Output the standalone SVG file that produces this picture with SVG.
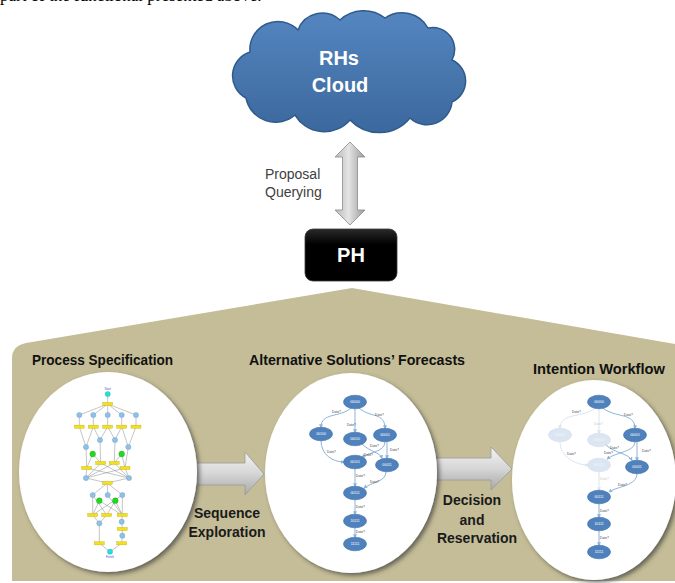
<svg xmlns="http://www.w3.org/2000/svg" width="675" height="583" viewBox="0 0 675 583">
<defs>
<linearGradient id="cloudG" x1="0" y1="0" x2="0" y2="1">
<stop offset="0" stop-color="#5586c0"/><stop offset="1" stop-color="#3b689d"/>
</linearGradient>
<linearGradient id="vArrow" x1="0" y1="0" x2="1" y2="0">
<stop offset="0" stop-color="#b8b8b8"/><stop offset="0.45" stop-color="#e4e4e4"/><stop offset="1" stop-color="#9a9a9a"/>
</linearGradient>
<linearGradient id="hArrow" x1="0" y1="0" x2="0" y2="1">
<stop offset="0" stop-color="#f4f4f4"/><stop offset="0.5" stop-color="#d6d6d6"/><stop offset="1" stop-color="#a8a8a8"/>
</linearGradient>
<linearGradient id="phG" x1="0" y1="0" x2="0" y2="1">
<stop offset="0" stop-color="#2a2a2a"/><stop offset="0.3" stop-color="#000"/><stop offset="1" stop-color="#000"/>
</linearGradient>
<filter id="sh" x="-20%" y="-20%" width="140%" height="140%">
<feDropShadow dx="2.5" dy="2.5" stdDeviation="2" flood-color="#3a3a3a" flood-opacity="0.7"/>
</filter>
<marker id="ah" viewBox="0 0 6 6" refX="5" refY="3" markerWidth="4" markerHeight="4" orient="auto">
<path d="M0,0 L6,3 L0,6 z" fill="#8db3dc"/>
</marker>
<marker id="ahp" viewBox="0 0 6 6" refX="5" refY="3" markerWidth="4" markerHeight="4" orient="auto">
<path d="M0,0 L6,3 L0,6 z" fill="#dbe5f1"/>
</marker>
<style>
.title{font-family:"Liberation Sans",Arial,sans-serif;font-weight:bold;font-size:14px;fill:#111}
.lbl{font-family:"Liberation Sans",Arial,sans-serif;font-weight:bold;font-size:14px;fill:#1a1a1a;text-anchor:middle}
.big{font-family:"Liberation Sans",Arial,sans-serif;font-weight:bold;font-size:20px;fill:#fff;text-anchor:middle}
.pq{font-family:"Liberation Sans",Arial,sans-serif;font-size:14px;fill:#404040}
.bub{fill:#fff;filter:url(#sh)}
.nd{fill:#4f81bd;stroke:#3d6ea6;stroke-width:0.6}
.ndp{fill:#dce6f2;stroke:#d3deeb;stroke-width:0.6}
.nt{font-family:"Liberation Sans",Arial,sans-serif;font-size:3.5px;fill:#fff;text-anchor:middle}
.ntp{font-family:"Liberation Sans",Arial,sans-serif;font-size:3.5px;fill:#f4f7fb;text-anchor:middle}
.ed{fill:none;stroke:#8db3dc;stroke-width:1;marker-end:url(#ah)}
.edp{fill:none;stroke:#dbe5f1;stroke-width:1;marker-end:url(#ahp)}
.dl{font-family:"Liberation Sans",Arial,sans-serif;font-size:3.3px;fill:#444}
.dlp{font-family:"Liberation Sans",Arial,sans-serif;font-size:3.3px;fill:#c8c8c8}
.pl{stroke:#7d7d7d;stroke-width:0.45;fill:none}
.pp{fill:#8fc0e6;stroke:#6a9cc8;stroke-width:0.4}
.pt{fill:#f0e020;stroke:#b8a000;stroke-width:0.3}
.pg{fill:#22d822;stroke:#119911;stroke-width:0.3}
.pc{fill:#22e0e0;stroke:#119999;stroke-width:0.3}
.ptx{font-family:"Liberation Sans",Arial,sans-serif;font-size:3px;fill:#4a4ad0;text-anchor:middle}
</style>
</defs>

<rect width="675" height="583" fill="#fff"/>
<text x="0" y="1" font-family="Liberation Serif,Times New Roman,serif" font-size="17" fill="#000">part of the functional presented above.</text>

<path d="M352,288 L675,344 L675,581 L12,581 L12,358 Q12,346 26,343 Z" fill="#c4bd97"/>

<g id="cloud">
<path d="M246,98 A25,25 0 0 1 250,52 A28,28 0 0 1 298,30 A26,26 0 0 1 340,20 A35,35 0 0 1 385,18 A30,30 0 0 1 428,28 A22,22 0 0 1 452,60 A23,23 0 0 1 452,102 A25,25 0 0 1 410,118 A40,40 0 0 1 350,120 A34,34 0 0 1 295,115 A30,30 0 0 1 246,98 Z" fill="url(#cloudG)" stroke="#2f5b8c" stroke-width="1.5"/>
<text class="big" x="339" y="65">RHs</text>
<text class="big" x="340" y="92">Cloud</text>
</g>

<g id="connectors">
<g id="proposal-arrow">
<polygon points="350,142 365,157 357.5,157 357.5,210 365,210 350,225 335,210 342.5,210 342.5,157 335,157" fill="url(#vArrow)" stroke="#8c8c8c" stroke-width="0.8"/>
<text class="pq" x="265" y="179">Proposal</text>
<text class="pq" x="265" y="197">Querying</text>
</g>
<g id="sequence-arrow">
<polygon points="188,463 245,463 245,452 264,474 245,495 245,485 188,485" fill="url(#hArrow)" stroke="#9a9a9a" stroke-width="0.8"/>
<text class="lbl" x="227" y="518">Sequence</text>
<text class="lbl" x="227" y="537">Exploration</text>
</g>
<g id="decision-arrow">
<polygon points="432,458 491,458 491,447 512,469 491,490 491,480 432,480" fill="url(#hArrow)" stroke="#9a9a9a" stroke-width="0.8"/>
<text class="lbl" x="472" y="505">Decision</text>
<text class="lbl" x="472" y="525">and</text>
<text class="lbl" x="477" y="543">Reservation</text>
</g>
</g>

<g id="ph">
<rect x="305" y="229" width="92" height="52" rx="8" fill="url(#phG)" stroke="#3a3a3a" stroke-width="0.8"/>
<text class="big" x="351" y="262" font-size="21">PH</text>
</g>

<g id="process-specification">
<text class="title" x="32" y="365" textLength="141" lengthAdjust="spacingAndGlyphs">Process Specification</text>
<ellipse class="bub" cx="108" cy="472" rx="89" ry="100"/>
<g>
<path class="pl" d="M107.7,394 L107.7,404 M107.7,404 L79.3,415 M107.7,404 L93.3,415 M107.7,404 L107.7,415 M107.7,404 L121.7,415 M107.7,404 L136,415
M79.3,415 L79.3,426.7 M93.3,415 L93.3,426.7 M107.7,415 L107.7,426.7 M121.7,415 L121.7,426.7 M136,415 L136,426.7
M79.3,426.7 L86,447 M93.3,426.7 L86,447 M93.3,426.7 L100,440 M107.7,426.7 L100,440 M107.7,426.7 L115,440 M121.7,426.7 L115,440 M121.7,426.7 L128.3,447 M136,426.7 L128.3,447
M86,447 L86.7,468 M100,440 L100.7,463 M115,440 L114.3,463 M128.3,447 L125,468
M92.7,454 L100.7,463 M92.7,454 L86.7,468 M121.7,454 L114.3,463 M121.7,454 L125,468
M100.7,463 L86,478 M100.7,463 L129,478 M114.3,463 L86,478 M114.3,463 L129,478 M86.7,468 L86,478 M86.7,468 L129,478 M125,468 L86,478 M125,468 L129,478
M86,478 L107.3,483 M129,478 L107.3,483
M107.3,483 L92.7,495 M107.3,483 L107.7,495 M107.3,483 L122.3,495
M92.7,495 L92.7,515 M92.7,495 L106.7,515 M107.7,495 L122.3,515 M122.3,495 L122.3,515 M122.3,495 L92.7,515
M99.3,500.7 L92.7,515 M99.3,500.7 L122.3,515 M115.3,500.7 L106.7,515 M115.3,500.7 L122.3,515
M92.7,515 L99.3,523.3 M106.7,515 L99.3,523.3 M122.3,515 L121.7,521.7
M121.7,521.7 L122.3,529 L122.3,535.7 L121.7,543.3 L110,551.7 M99.3,523.3 L99.3,543.3 L110,551.7"/>
<circle class="pc" cx="107.7" cy="394" r="2.6"/>
<text class="ptx" x="107.7" y="389.5">Start</text>
<rect class="pt" x="102.7" y="402.4" width="10" height="3.2"/>
<circle class="pp" cx="79.3" cy="415" r="2.6"/><circle class="pp" cx="93.3" cy="415" r="2.6"/><circle class="pp" cx="107.7" cy="415" r="2.6"/><circle class="pp" cx="121.7" cy="415" r="2.6"/><circle class="pp" cx="136" cy="415" r="2.6"/>
<rect class="pt" x="74.3" y="425.1" width="10" height="3.2"/><rect class="pt" x="88.3" y="425.1" width="10" height="3.2"/><rect class="pt" x="102.7" y="425.1" width="10" height="3.2"/><rect class="pt" x="116.7" y="425.1" width="10" height="3.2"/><rect class="pt" x="131" y="425.1" width="10" height="3.2"/>
<circle class="pp" cx="100" cy="440" r="2.6"/><circle class="pp" cx="115" cy="440" r="2.6"/><circle class="pp" cx="86" cy="447" r="2.6"/><circle class="pp" cx="128.3" cy="447" r="2.6"/>
<circle class="pg" cx="92.7" cy="454" r="2.9"/><circle class="pg" cx="121.7" cy="454" r="2.9"/>
<rect class="pt" x="95.7" y="461.4" width="10" height="3.2"/><rect class="pt" x="109.3" y="461.4" width="10" height="3.2"/><rect class="pt" x="81.7" y="466.4" width="10" height="3.2"/><rect class="pt" x="120" y="466.4" width="10" height="3.2"/>
<circle class="pp" cx="86" cy="478" r="2.6"/><circle class="pp" cx="129" cy="478" r="2.6"/>
<rect class="pt" x="102.3" y="481.4" width="10" height="3.2"/>
<circle class="pp" cx="92.7" cy="495" r="2.6"/><circle class="pp" cx="107.7" cy="495" r="2.6"/><circle class="pp" cx="122.3" cy="495" r="2.6"/>
<circle class="pg" cx="99.3" cy="500.7" r="2.9"/><circle class="pg" cx="115.3" cy="500.7" r="2.9"/>
<rect class="pt" x="87.7" y="513.4" width="10" height="3.2"/><rect class="pt" x="101.7" y="513.4" width="10" height="3.2"/><rect class="pt" x="117.3" y="513.4" width="10" height="3.2"/>
<circle class="pp" cx="99.3" cy="523.3" r="2.6"/><circle class="pp" cx="121.7" cy="521.7" r="2.6"/>
<rect class="pt" x="117.3" y="527.4" width="10" height="3.2"/>
<circle class="pp" cx="122.3" cy="535.7" r="2.6"/>
<rect class="pt" x="94.3" y="541.7" width="10" height="3.2"/><rect class="pt" x="116.7" y="541.7" width="10" height="3.2"/>
<circle class="pc" cx="110" cy="551.7" r="2.6"/>
<text class="ptx" x="110" y="558">Finish</text>
</g>
</g>

<g id="alternative-solutions">
<text class="title" x="249" y="365" textLength="216" lengthAdjust="spacingAndGlyphs">Alternative Solutions’ Forecasts</text>
<ellipse class="bub" cx="351" cy="473" rx="86" ry="100"/>
<g>
<path class="ed" d="M351,408 C340,418 321,412 321,427.5"/>
<path class="ed" d="M355,408.5 L355,432.5"/>
<path class="ed" d="M359,408 C370,418 385,412 385,428.5"/>
<path class="ed" d="M321,440.5 C321,455 333,462 344,462"/>
<path class="ed" d="M362,444 C370,452 380,452 382,458.5"/>
<path class="ed" d="M385,441.5 C385,452 370,452 362,457"/>
<path class="ed" d="M387,441.5 L387,458.5"/>
<path class="ed" d="M355,468.5 L355,486.5"/>
<path class="ed" d="M386,471.5 C386,482 372,482 364,488"/>
<path class="ed" d="M355,499.5 L355,514.5"/>
<path class="ed" d="M355,527.5 L355,537.5"/>
<text class="dl" x="332" y="413">Date?</text>
<text class="dl" x="347" y="426">Date?</text>
<text class="dl" x="375" y="416">Date?</text>
<text class="dl" x="327" y="453">Date?</text>
<text class="dl" x="370" y="447">Date?</text>
<text class="dl" x="364" y="456">Date?</text>
<text class="dl" x="390" y="451">Date?</text>
<text class="dl" x="356" y="477">Date?</text>
<text class="dl" x="370" y="483">Date?</text>
<text class="dl" x="356" y="508">Date?</text>
<text class="dl" x="356" y="533">Date?</text>
<ellipse class="nd" cx="355" cy="402" rx="11.5" ry="6.8"/><text class="nt" x="355" y="403.3">00000</text>
<ellipse class="nd" cx="321" cy="434" rx="11.5" ry="6.8"/><text class="nt" x="321" y="435.3">00100</text>
<ellipse class="nd" cx="355" cy="439" rx="11.5" ry="6.8"/><text class="nt" x="355" y="440.3">00010</text>
<ellipse class="nd" cx="385" cy="435" rx="11.5" ry="6.8"/><text class="nt" x="385" y="436.3">00001</text>
<ellipse class="nd" cx="355" cy="462" rx="11.5" ry="6.8"/><text class="nt" x="355" y="463.3">00101</text>
<ellipse class="nd" cx="387" cy="465" rx="11.5" ry="6.8"/><text class="nt" x="387" y="466.3">00011</text>
<ellipse class="nd" cx="355" cy="493" rx="11.5" ry="6.8"/><text class="nt" x="355" y="494.3">00111</text>
<ellipse class="nd" cx="355" cy="521" rx="11.5" ry="6.8"/><text class="nt" x="355" y="522.3">10111</text>
<ellipse class="nd" cx="355" cy="544" rx="11.5" ry="6.8"/><text class="nt" x="355" y="545.3">11111</text>
</g>
</g>

<g id="intention-workflow">
<text class="title" x="533" y="374" textLength="132" lengthAdjust="spacingAndGlyphs">Intention Workflow</text>
<ellipse class="bub" cx="594" cy="480" rx="82" ry="100"/>
<g>
<path class="edp" d="M595,408 C584,418 560,412 560,428.5"/>
<path class="edp" d="M599,408.5 L599,433.5"/>
<path class="ed" d="M603,408 C614,418 635,412 635,428.5"/>
<path class="edp" d="M560,441.5 C560,457 576,465 588,465"/>
<path class="ed" d="M606,445 C614,453 628,453 632,460.5"/>
<path class="ed" d="M635,441.5 C635,452 616,452 607,459"/>
<path class="ed" d="M637,441.5 L637,460.5"/>
<path class="edp" d="M599,471.5 L599,490.5"/>
<path class="ed" d="M637,473.5 C637,486 618,486 609,492"/>
<path class="ed" d="M599,503.5 L599,517.5"/>
<path class="ed" d="M599,530.5 L599,545.5"/>
<text class="dl" x="572" y="413">Date?</text>
<text class="dlp" x="594" y="425">Date?</text>
<text class="dl" x="624" y="416">Date?</text>
<text class="dl" x="567" y="455">Date?</text>
<text class="dl" x="610" y="449">Date?</text>
<text class="dl" x="604" y="454">Date?</text>
<text class="dl" x="642" y="452">Date?</text>
<text class="dlp" x="600" y="480">Date?</text>
<text class="dl" x="618" y="486">Date?</text>
<text class="dl" x="600" y="512">Date?</text>
<text class="dl" x="600" y="539">Date?</text>
<ellipse class="nd" cx="599" cy="402" rx="11.5" ry="6.8"/><text class="nt" x="599" y="403.3">00000</text>
<ellipse class="ndp" cx="560" cy="435" rx="11.5" ry="6.8"/><text class="ntp" x="560" y="436.3">00100</text>
<ellipse class="ndp" cx="599" cy="440" rx="11.5" ry="6.8"/><text class="ntp" x="599" y="441.3">00010</text>
<ellipse class="nd" cx="635" cy="435" rx="11.5" ry="6.8"/><text class="nt" x="635" y="436.3">00001</text>
<ellipse class="ndp" cx="599" cy="465" rx="11.5" ry="6.8"/><text class="ntp" x="599" y="466.3">00101</text>
<ellipse class="nd" cx="637" cy="467" rx="11.5" ry="6.8"/><text class="nt" x="637" y="468.3">00011</text>
<ellipse class="nd" cx="599" cy="497" rx="11.5" ry="6.8"/><text class="nt" x="599" y="498.3">00111</text>
<ellipse class="nd" cx="599" cy="524" rx="11.5" ry="6.8"/><text class="nt" x="599" y="525.3">10111</text>
<ellipse class="nd" cx="599" cy="552" rx="11.5" ry="6.8"/><text class="nt" x="599" y="553.3">11111</text>
</g>
</g>
</svg>
